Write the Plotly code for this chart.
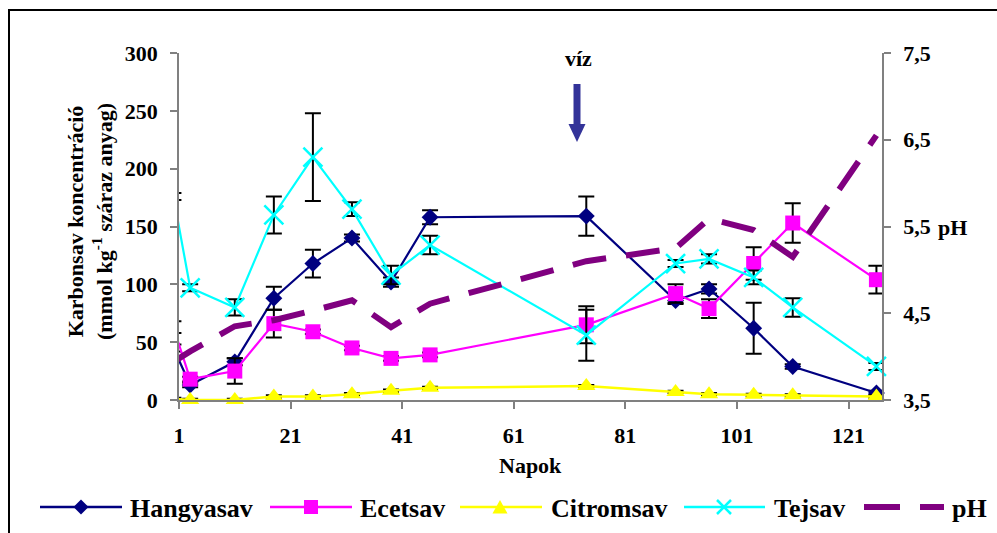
import plotly.graph_objects as go

# Sampling days
days = [0, 3, 11, 18, 25, 32, 39, 46, 74, 90, 96, 104, 111, 126]

# Carboxylic acid concentrations (mmol kg-1 dry matter) and their errors
hangyasav = [45, 13, 33, 88, 118, 140, 102, 158, 159, 86, 96, 62, 29, 6]
hangyasav_err = [3, 2, 3, 10, 12, 3, 4, 6, 17, 3, 4, 22, 2, 2]
ecetsav = [63, 18, 25, 66, 59, 45, 36, 39, 65, 92, 79, 118, 153, 104]
ecetsav_err = [5, 2, 11, 12, 2, 2, 2, 2, 16, 8, 8, 14, 17, 12]
citromsav = [1, 0, 0, 3, 3, 5, 8, 10.5, 12, 7, 5, 4.5, 4, 3]
citromsav_err = [1, 1, 1, 1, 1, 1, 1, 1, 1, 1, 1, 1, 1, 1]
tejsav = [176, 97, 80, 160, 210, 165, 108, 134, 56, 118, 122, 106, 80, 29]
tejsav_err = [3, 3, 7, 16, 38, 6, 8, 8, 22, 3, 4, 6, 8, 3]

# pH (right axis)
ph = [3.94, 4.06, 4.35, 4.42, 4.53, 4.65, 4.34, 4.61, 5.10, 5.25, 5.59, 5.46, 5.15, 6.55]

# Axis ticks
x_ticks = [1, 21, 41, 61, 81, 101, 121]
y_ticks = [0, 50, 100, 150, 200, 250, 300]
ph_ticks = [3.5, 4.5, 5.5, 6.5, 7.5]

legend_names = ["Hangyasav", "Ecetsav", "Citromsav", "Tejsav", "pH"]

# Figure geometry (pixels)
W, H = 997, 533
ML, MR, MT, MB = 179, 115, 53, 133
PW, PH = W - ML - MR, H - MT - MB


def px(x):
    return (x - ML) / PW


def py(y):
    return (H - MB - y) / PH


FONT = "Liberation Serif"
NAVY, MAGENTA, YELLOW, CYAN, PURPLE = "#000080", "#FF00FF", "#FFFF00", "#00FFFF", "#800080"

# The first sampling day lies left of the axis start: its marker is not shown
marker_opacity = [0] + [1] * (len(days) - 1)


def err(vals):
    return dict(type="data", array=vals, visible=True, color="black", thickness=2, width=8)


fig = go.Figure()

fig.add_trace(go.Scatter(
    x=days, y=hangyasav, name="Hangyasav", mode="lines+markers",
    line=dict(color=NAVY, width=2.2),
    marker=dict(symbol="diamond", size=13, color=NAVY, opacity=marker_opacity),
    error_y=err(hangyasav_err), cliponaxis=False))

fig.add_trace(go.Scatter(
    x=days, y=ecetsav, name="Ecetsav", mode="lines+markers",
    line=dict(color=MAGENTA, width=2.2),
    marker=dict(symbol="square", size=15, color=MAGENTA, opacity=marker_opacity),
    error_y=err(ecetsav_err), cliponaxis=False))

fig.add_trace(go.Scatter(
    x=days, y=citromsav, name="Citromsav", mode="lines+markers",
    line=dict(color=YELLOW, width=2.5),
    marker=dict(symbol="triangle-up", size=16, color=YELLOW, opacity=marker_opacity),
    error_y=err(citromsav_err), cliponaxis=False))

fig.add_trace(go.Scatter(
    x=days, y=tejsav, name="Tejsav", mode="lines+markers",
    line=dict(color=CYAN, width=2.2),
    marker=dict(symbol="x-thin-open", size=19, color=CYAN, opacity=marker_opacity,
                line=dict(color=CYAN, width=2.5)),
    error_y=err(tejsav_err), cliponaxis=False))

fig.add_trace(go.Scatter(
    x=days, y=ph, name="pH", mode="lines", yaxis="y2",
    line=dict(color=PURPLE, width=6, dash="34px,20px")))

tickfont = dict(family=FONT, size=22, color="black", weight="bold")
axis_col = "#808080"

fig.update_layout(
    width=W, height=H,
    margin=dict(l=ML, r=MR, t=MT, b=MB, pad=0),
    paper_bgcolor="white", plot_bgcolor="white",
    separators=",.",
    showlegend=False,
    xaxis=dict(range=[1, 127], tickvals=x_ticks, ticks="outside", ticklen=7,
               tickcolor=axis_col, tickwidth=1.5, showline=True, linecolor=axis_col,
               linewidth=1.5, showgrid=False, zeroline=False, tickfont=tickfont,
               ticklabelstandoff=8),
    yaxis=dict(range=[0, 300], tickvals=y_ticks, ticks="outside", ticklen=7,
               tickcolor=axis_col, tickwidth=1.5, showline=True, linecolor=axis_col,
               linewidth=1.5, showgrid=False, zeroline=False, tickfont=tickfont,
               ticklabelstandoff=8),
    yaxis2=dict(range=[3.5, 7.5], tickvals=ph_ticks, tickformat=".1f",
                overlaying="y", side="right", ticks="outside", ticklen=7,
                tickcolor=axis_col, tickwidth=1.5, showline=True, linecolor=axis_col,
                linewidth=1.5, showgrid=False, zeroline=False, tickfont=tickfont,
                ticklabelstandoff=8),
)

annotations = []
shapes = []

# Axis titles
annotations.append(dict(
    text="Karbonsav koncentráció<br>(mmol kg<sup>-1</sup> száraz anyag)",
    x=px(90), y=py(222), xref="paper", yref="paper", textangle=-90,
    showarrow=False, xanchor="center", yanchor="middle",
    font=dict(family=FONT, size=22, color="black", weight="bold")))
annotations.append(dict(
    text="Napok", x=px(530), y=py(465), xref="paper", yref="paper",
    showarrow=False, xanchor="center", yanchor="middle",
    font=dict(family=FONT, size=22, color="black", weight="bold")))
annotations.append(dict(
    text="pH", x=px(936), y=py(227), xref="paper", yref="paper",
    showarrow=False, xanchor="left", yanchor="middle",
    font=dict(family=FONT, size=22, color="black", weight="bold")))

# Water addition marker
annotations.append(dict(
    text="víz", x=px(578), y=py(59), xref="paper", yref="paper",
    showarrow=False, xanchor="center", yanchor="middle",
    font=dict(family=FONT, size=22, color="black", weight="bold")))
ARROW = "#333399"
shapes.append(dict(type="rect", xref="paper", yref="paper",
                   x0=px(573.5), x1=px(580.5), y0=py(84), y1=py(126),
                   fillcolor=ARROW, line=dict(width=0)))
shapes.append(dict(type="path", xref="paper", yref="paper",
                   path=f"M {px(568.5)},{py(124)} L {px(585.5)},{py(124)} L {px(577)},{py(142)} Z",
                   fillcolor=ARROW, line=dict(width=0)))

# Legend row
LY = 507
leg_font = dict(family=FONT, size=26, color="black", weight="bold")
legend_rows = [
    (40, 122, 128, NAVY),
    (270, 352, 358, MAGENTA),
    (460, 542, 549, YELLOW),
    (684, 765, 772, CYAN),
]
for name, (a, b, t, col) in zip(legend_names[:4], legend_rows):
    shapes.append(dict(type="line", xref="paper", yref="paper",
                       x0=px(a), x1=px(b), y0=py(LY), y1=py(LY),
                       line=dict(color=col, width=2.5)))
    annotations.append(dict(text=name, x=px(t), y=py(LY + 1), xref="paper", yref="paper",
                            showarrow=False, xanchor="left", yanchor="middle", font=leg_font))

# legend symbols
cx = 81
shapes.append(dict(type="path", xref="paper", yref="paper",
                   path=f"M {px(cx)},{py(LY-7.5)} L {px(cx+7.5)},{py(LY)} L {px(cx)},{py(LY+7.5)} L {px(cx-7.5)},{py(LY)} Z",
                   fillcolor=NAVY, line=dict(width=0)))
cx = 311
shapes.append(dict(type="rect", xref="paper", yref="paper",
                   x0=px(cx-7), x1=px(cx+7), y0=py(LY-7), y1=py(LY+7),
                   fillcolor=MAGENTA, line=dict(width=0)))
cx = 500
shapes.append(dict(type="path", xref="paper", yref="paper",
                   path=f"M {px(cx-7.5)},{py(LY+6.5)} L {px(cx+7.5)},{py(LY+6.5)} L {px(cx)},{py(LY-7)} Z",
                   fillcolor=YELLOW, line=dict(width=0)))
cx = 724
for s in (1, -1):
    shapes.append(dict(type="line", xref="paper", yref="paper",
                       x0=px(cx-7), x1=px(cx+7), y0=py(LY-7*s), y1=py(LY+7*s),
                       line=dict(color=CYAN, width=2.5)))
for a, b in ((864, 900), (920, 944)):
    shapes.append(dict(type="line", xref="paper", yref="paper",
                       x0=px(a), x1=px(b), y0=py(LY), y1=py(LY),
                       line=dict(color=PURPLE, width=6)))
annotations.append(dict(text=legend_names[4], x=px(950), y=py(LY + 1), xref="paper", yref="paper",
                        showarrow=False, xanchor="left", yanchor="middle", font=leg_font))

# Outer chart frame
shapes.append(dict(type="rect", xref="paper", yref="paper",
                   x0=px(9), x1=px(1010), y0=py(10), y1=py(545),
                   line=dict(color="black", width=2), fillcolor="rgba(0,0,0,0)"))

fig.update_layout(annotations=annotations, shapes=shapes)

fig.write_html("out.html")
